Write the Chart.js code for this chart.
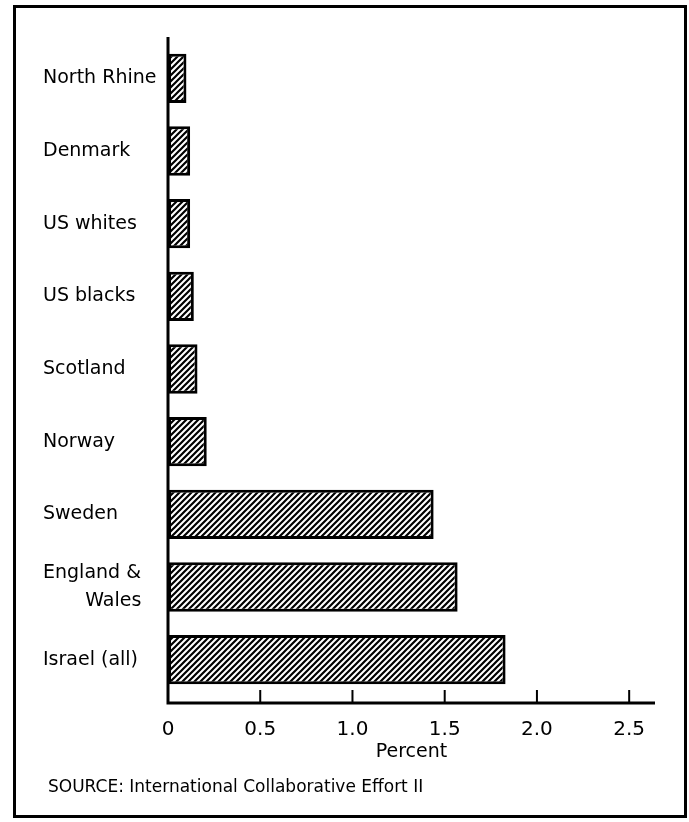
<!DOCTYPE html>
<html>
<head>
<meta charset="utf-8">
<script src="https://cdn.jsdelivr.net/npm/chart.js@4/dist/chart.umd.min.js"></script>
<style>
  html, body { margin: 0; padding: 0; background: #fff; }
  #frame {
    position: absolute; left: 13px; top: 5px; width: 674px; height: 813px;
    box-sizing: border-box; border: 3px solid #000;
  }
  #chart { position: absolute; left: 0; top: 0; }
</style>
</head>
<body>
<div id="frame"></div>
<canvas id="chart" width="689" height="822"></canvas>
<script>
// data
const categories = ['North Rhine', 'Denmark', 'US whites', 'US blacks', 'Scotland', 'Norway', 'Sweden',
                    ['England &', '       Wales'], 'Israel (all)'];
const percentValues = [0.10, 0.12, 0.12, 0.14, 0.16, 0.21, 1.44, 1.57, 1.83];
const tickValues = [0, 0.5, 1.0, 1.5, 2.0, 2.5];
const axisTitle = 'Percent';
const sourceNote = 'SOURCE: International Collaborative Effort II';

// diagonal hatch fill
function hatch() {
    const c = document.createElement('canvas');
    c.width = 6; c.height = 6;
    const p = c.getContext('2d');
    p.fillStyle = '#fff';
    p.fillRect(0, 0, 6, 6);
    p.strokeStyle = '#000';
    p.lineWidth = 2.2;
    p.beginPath();
    p.moveTo(-1, 7); p.lineTo(7, -1);
    p.moveTo(-1, 1); p.lineTo(1, -1);
    p.moveTo(5, 7); p.lineTo(7, 5);
    p.stroke();
    return p.createPattern(c, 'repeat');
}

// axes drawn by hand: inward ticks, axis line a bit below the bars
const axesPlugin = {
    id: 'axes',
    afterDatasetsDraw(chart) {
        const ctx = chart.ctx;
        const x = chart.scales.x;
        const a = chart.chartArea;
        const x0 = x.getPixelForValue(0);
        const axisY = a.bottom + 7;
        ctx.save();
        ctx.strokeStyle = '#000';
        ctx.lineWidth = 3;
        ctx.beginPath();
        ctx.moveTo(x0, a.top - 5);
        ctx.lineTo(x0, axisY + 1.5);
        ctx.moveTo(x0 - 1.5, axisY);
        ctx.lineTo(a.right, axisY);
        ctx.stroke();
        ctx.lineWidth = 2;
        ctx.beginPath();
        tickValues.slice(1).forEach(v => {
            const px = x.getPixelForValue(v);
            ctx.moveTo(px, axisY);
            ctx.lineTo(px, axisY - 13);
        });
        ctx.stroke();

        ctx.fillStyle = '#000';
        ctx.font = '17px "DejaVu Sans"';
        ctx.textAlign = 'left';
        ctx.textBaseline = 'alphabetic';
        ctx.fillText(sourceNote, 48, 792);
        ctx.restore();
    }
};

const ctx = document.getElementById('chart').getContext('2d');
new Chart(ctx, {
    type: 'bar',
    data: {
        labels: categories,
        datasets: [{
            data: percentValues,
            backgroundColor: hatch(),
            borderColor: '#000',
            borderWidth: 3,
            borderSkipped: false,
            barPercentage: 0.68,
            categoryPercentage: 1.0
        }]
    },
    options: {
        indexAxis: 'y',
        responsive: false,
        animation: false,
        devicePixelRatio: 1,
        layout: { padding: { left: 43, right: 34, top: 42, bottom: 56 } },
        plugins: { legend: { display: false }, tooltip: { enabled: false } },
        scales: {
            x: {
                type: 'linear',
                min: 0,
                max: 2.64,
                afterBuildTicks: s => { s.ticks = tickValues.map(v => ({ value: v })); },
                afterFit: s => { s.height = 70; },
                grid: { display: false },
                border: { display: false },
                ticks: {
                    color: '#000',
                    padding: 14,
                    maxRotation: 0,
                    font: { family: 'DejaVu Sans', size: 20, lineHeight: 1.2 },
                    callback: v => v === 0 ? '0' : Number(v).toFixed(1)
                },
                title: {
                    display: true,
                    text: axisTitle,
                    color: '#000',
                    padding: { top: 0, bottom: 3 },
                    font: { family: 'DejaVu Sans', size: 19, lineHeight: 1.2 }
                }
            },
            y: {
                afterFit: s => { s.width = 125; },
                grid: { display: false },
                border: { display: false },
                ticks: {
                    color: '#000',
                    crossAlign: 'far',
                    font: { family: 'DejaVu Sans', size: 19, lineHeight: 1.5 }
                }
            }
        }
    },
    plugins: [axesPlugin]
});
</script>
</body>
</html>
